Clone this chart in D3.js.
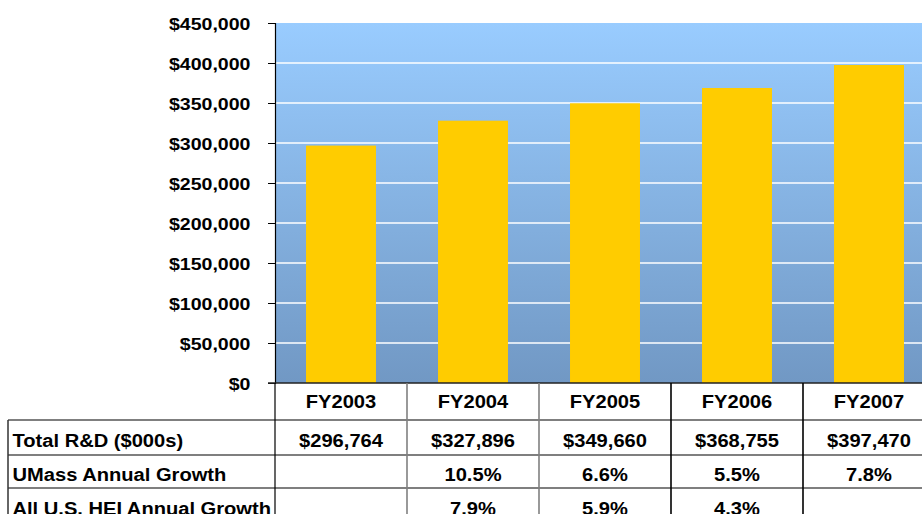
<!DOCTYPE html>
<html>
<head>
<meta charset="utf-8">
<script src="https://cdn.jsdelivr.net/npm/d3@7"></script>
<style>
  html, body { margin: 0; padding: 0; background: #fff; overflow: hidden; }
  svg { display: block; }
  text { font-family: "Liberation Sans", Arial, sans-serif; font-weight: bold; fill: #000; }
</style>
</head>
<body>
<svg id="chart" width="922" height="514"></svg>
<script>
const categories = ["FY2003", "FY2004", "FY2005", "FY2006", "FY2007"];
const totals = [296764, 327896, 349660, 368755, 397470];
const totalLabels = ["$296,764", "$327,896", "$349,660", "$368,755", "$397,470"];
const umassGrowth = ["", "10.5%", "6.6%", "5.5%", "7.8%"];
const heiGrowth = ["", "7.9%", "5.9%", "4.3%", ""];
const rowLabels = ["Total R&D ($000s)", "UMass Annual Growth", "All U.S. HEI Annual Growth"];
const yTicks = [0, 50000, 100000, 150000, 200000, 250000, 300000, 350000, 400000, 450000];

const svg = d3.select("#chart");
const plotLeft = 275, plotRight = 935, plotTop = 23, plotBottom = 383;

const x = d3.scaleBand().domain(categories).range([plotLeft, plotRight]).paddingInner(0).paddingOuter(0);
const y = d3.scaleLinear().domain([0, 450000]).range([plotBottom, plotTop]);
const fmt = v => "$" + d3.format(",")(v);

// gradient background
const defs = svg.append("defs");
const grad = defs.append("linearGradient").attr("id", "bg").attr("x1", 0).attr("y1", 0).attr("x2", 0).attr("y2", 1);
grad.append("stop").attr("offset", "0%").attr("stop-color", "#99CCFF");
grad.append("stop").attr("offset", "100%").attr("stop-color", "#7198C4");

svg.append("rect")
  .attr("x", plotLeft).attr("y", plotTop)
  .attr("width", plotRight - plotLeft).attr("height", plotBottom - plotTop)
  .attr("fill", "url(#bg)");

// gridlines
svg.append("g").selectAll("line")
  .data(yTicks.filter(t => t > 0 && t < 450000))
  .join("line")
  .attr("x1", plotLeft).attr("x2", plotRight)
  .attr("y1", d => y(d)).attr("y2", d => y(d))
  .attr("stroke", "#fff").attr("stroke-width", 1.6);

// bars
const barW = x.bandwidth() * 0.53;
svg.append("g").selectAll("rect")
  .data(categories.map((c, i) => ({c, v: totals[i]})))
  .join("rect")
  .attr("x", d => x(d.c) + (x.bandwidth() - barW) / 2)
  .attr("y", d => y(d.v))
  .attr("width", barW)
  .attr("height", d => y(0) - y(d.v))
  .attr("fill", "#FFCC00");

// y axis
const yAxis = d3.axisLeft(y).tickValues(yTicks).tickSize(7).tickFormat(fmt);
const gy = svg.append("g").attr("transform", `translate(${plotLeft},0)`).call(yAxis);
gy.select(".domain").attr("stroke", "#000").attr("stroke-width", 1.2);
gy.selectAll(".tick line").attr("stroke", "#000");
gy.selectAll(".tick text").remove();
gy.selectAll(".tick").append("text")
  .attr("text-anchor", "end")
  .attr("transform", "translate(-24.5,6) scale(1.2,1)")
  .attr("font-size", 16.3)
  .text(d => fmt(d));

// bottom axis line
svg.append("line")
  .attr("x1", plotLeft - 7).attr("x2", 922)
  .attr("y1", plotBottom).attr("y2", plotBottom)
  .attr("stroke", "#222").attr("stroke-width", 1.6);

// table
const rowTops = [383, 420, 455, 488, 521];
const tableLeft = 8;
const t = svg.append("g");
// horizontal lines
t.selectAll("line.h")
  .data(rowTops.slice(1))
  .join("line").attr("class", "h")
  .attr("x1", tableLeft).attr("x2", 922)
  .attr("y1", d => d).attr("y2", d => d)
  .attr("stroke", "#000").attr("stroke-width", 1.2);
// left border
t.append("line")
  .attr("x1", tableLeft).attr("x2", tableLeft)
  .attr("y1", 420).attr("y2", 514)
  .attr("stroke", "#333").attr("stroke-width", 1.5);
// vertical column separators
const sepColors = ["#000", "#808080", "#808080", "#000", "#000"];
t.selectAll("line.v")
  .data(categories)
  .join("line").attr("class", "v")
  .attr("x1", d => x(d)).attr("x2", d => x(d))
  .attr("y1", plotBottom).attr("y2", 514)
  .attr("stroke", (d, i) => sepColors[i]).attr("stroke-width", (d, i) => i === 0 ? 1.2 : 1.6);

const cellFont = 18.3, cellScale = 1.1;
function cellText(sel, xpos, ypos, txt, anchor) {
  sel.append("text")
    .attr("text-anchor", anchor)
    .attr("font-size", cellFont)
    .attr("transform", `translate(${xpos},${ypos}) scale(${cellScale},1)`)
    .text(txt);
}
// header
categories.forEach(c => cellText(t, x(c) + x.bandwidth() / 2, 408, c, "middle"));
// rows
const rows = [totalLabels, umassGrowth, heiGrowth];
const baselines = [446.5, 481, 515];
rows.forEach((vals, r) => {
  cellText(t, 12.5, baselines[r], rowLabels[r], "start");
  vals.forEach((v, i) => {
    if (v) cellText(t, x(categories[i]) + x.bandwidth() / 2, baselines[r], v, "middle");
  });
});
</script>
</body>
</html>
